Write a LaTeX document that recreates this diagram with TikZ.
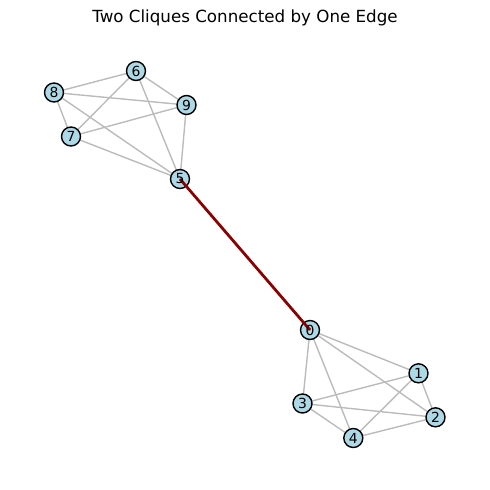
\documentclass[tikz,border=0pt]{standalone}
\usepackage{fontspec}
\setmainfont{DejaVu Sans}
\begin{document}
\begin{tikzpicture}[x=1pt,y=-1pt,
  vtx/.style={circle,draw=black,line width=1.39pt,fill=nodeblue,minimum size=19pt,inner sep=0pt},
  lbl/.style={inner sep=0pt,font=\fontsize{13.9}{16}\selectfont},
  gedge/.style={draw=edgegray,line width=1.39pt},
  redge/.style={draw=darkred,line width=2.78pt}]
\definecolor{nodeblue}{HTML}{ADD8E6}
\definecolor{edgegray}{HTML}{BBBBBB}
\definecolor{darkred}{HTML}{8B0000}
\useasboundingbox (0,0) rectangle (490,490);
\node[font=\fontsize{16.7}{20}\selectfont] (title) at (245,18) {Two Cliques Connected by One Edge};
\coordinate (c6) at (136,71);
\coordinate (c8) at (54,92.5);
\coordinate (c9) at (186.5,105);
\coordinate (c7) at (71,136.5);
\coordinate (c5) at (180,179);
\coordinate (c0) at (310,330);
\coordinate (c1) at (418.5,373.3);
\coordinate (c3) at (302.5,403.5);
\coordinate (c2) at (435.5,417.3);
\coordinate (c4) at (353.3,438);
\foreach \a/\b in {5/6,5/7,5/8,5/9,6/7,6/8,6/9,7/8,7/9,8/9,0/1,0/2,0/3,0/4,1/2,1/3,1/4,2/3,2/4,3/4}
  \draw[gedge] (c\a) -- (c\b);
\foreach \i in {0,...,9}
  \node[vtx] (n\i) at (c\i) {};
\draw[redge] (c5) -- (c0);
\foreach \i in {0,...,9}
  \node[lbl] (l\i) at (c\i) {\i};
\end{tikzpicture}
\end{document}
